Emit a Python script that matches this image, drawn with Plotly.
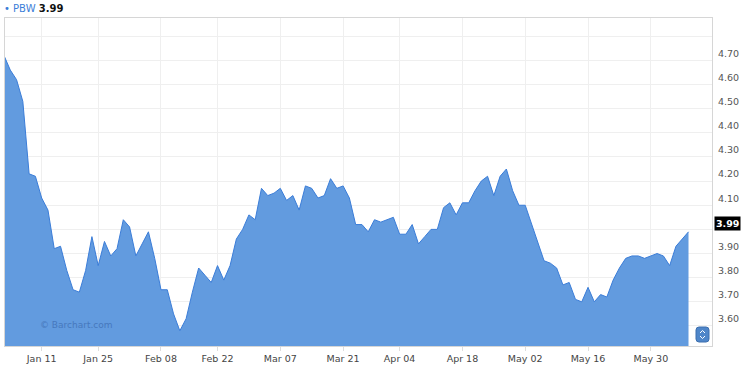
import pandas as pd
import plotly.graph_objects as go

# ---------------- data ----------------
SYMBOL = "PBW"
HOLIDAYS = ["2016-01-01", "2016-01-18", "2016-02-15", "2016-03-25", "2016-05-30"]
dates = [d.strftime("%Y-%m-%d") for d in pd.bdate_range("2015-12-31", "2016-06-08")
         if d.strftime("%Y-%m-%d") not in HOLIDAYS]

values = [
    4.72, 4.66, 4.62, 4.53, 4.23, 4.22, 4.13, 4.08, 3.92, 3.93,
    3.83, 3.75, 3.74, 3.83, 3.97, 3.85, 3.95, 3.89, 3.92, 4.04,
    4.01, 3.89, 3.94, 3.99, 3.88, 3.75, 3.75, 3.65, 3.58, 3.63,
    3.74, 3.84, 3.81, 3.78, 3.85, 3.79, 3.85, 3.96, 4.00, 4.06,
    4.04, 4.17, 4.14, 4.15, 4.17, 4.12, 4.14, 4.08, 4.18, 4.17,
    4.13, 4.14, 4.21, 4.17, 4.18, 4.13, 4.02, 4.02, 3.99, 4.04,
    4.03, 4.04, 4.05, 3.98, 3.98, 4.02, 3.94, 3.97, 4.00, 4.00,
    4.09, 4.11, 4.06, 4.11, 4.11, 4.16, 4.20, 4.22, 4.14, 4.22,
    4.25, 4.16, 4.10, 4.10, 4.02, 3.94, 3.87, 3.86, 3.84, 3.77,
    3.78, 3.71, 3.70, 3.76, 3.70, 3.73, 3.72, 3.79, 3.84, 3.88,
    3.89, 3.89, 3.88, 3.89, 3.90, 3.89, 3.85, 3.93, 3.96, 3.99,
]

TICK_DATES = ["2016-01-11", "2016-01-25", "2016-02-08", "2016-02-22", "2016-03-07",
              "2016-03-21", "2016-04-04", "2016-04-18", "2016-05-02", "2016-05-16",
              "2016-05-31"]
TICK_LABELS = ["Jan 11", "Jan 25", "Feb 08", "Feb 22", "Mar 07", "Mar 21",
               "Apr 04", "Apr 18", "May 02", "May 16", "May 30"]

Y_TICKS = [3.6, 3.7, 3.8, 3.9, 4.0, 4.1, 4.2, 4.3, 4.4, 4.5, 4.6, 4.7, 4.8]
Y_LABELS = ["3.60", "3.70", "3.80", "3.90", "", "4.10", "4.20", "4.30",
            "4.40", "4.50", "4.60", "4.70", ""]

# ---------------- style ----------------
FONT = "DejaVu Sans"
LINE_BLUE = "#3b7dd8"
FILL_BLUE = "#629bdf"
GRID = "#efefef"
BORDER = "#d6d6d6"

last = values[-1]

fig = go.Figure()
fig.add_trace(go.Scatter(
    x=dates, y=values, mode="lines",
    line=dict(color=LINE_BLUE, width=1),
    fill="tozeroy", fillcolor=FILL_BLUE,
    hoverinfo="x+y",
))

fig.update_layout(
    width=750, height=369,
    margin=dict(l=5, r=38, t=17.5, b=22.5),
    paper_bgcolor="white", plot_bgcolor="white",
    showlegend=False,
    font=dict(family=FONT, size=9.5, color="#444"),
)

fig.update_xaxes(
    type="category",
    range=[0.16, 112.74],
    tickmode="array", tickvals=TICK_DATES, ticktext=TICK_LABELS,
    showgrid=True, gridcolor=GRID, gridwidth=1,
    showline=True, linecolor=BORDER, linewidth=1, mirror=True,
    ticks="outside", ticklen=4, tickcolor="#dddddd",
    tickfont=dict(family=FONT, size=9.5, color="#444"),
    zeroline=False,
)

fig.update_yaxes(
    side="right",
    range=[3.517, 4.8755],
    tickmode="array", tickvals=Y_TICKS, ticktext=Y_LABELS,
    showgrid=True, gridcolor=GRID, gridwidth=1,
    showline=True, linecolor=BORDER, linewidth=1, mirror=True,
    ticks="",
    ticklabelshift=-7, ticklabelstandoff=3,
    tickfont=dict(family=FONT, size=9.5, color="#555"),
    zeroline=False,
)

# header legend
fig.add_annotation(
    xref="paper", yref="paper", x=0, y=1,
    xanchor="left", yanchor="middle", xshift=-3, yshift=10,
    text=f"<span style='color:{LINE_BLUE}'>•</span> <span style='color:{LINE_BLUE}'>{SYMBOL}</span> <b>{last:.2f}</b>",
    showarrow=False, font=dict(family=FONT, size=10, color="#111"),
)

# last price box
fig.add_annotation(
    xref="paper", yref="y", x=1, y=last,
    xanchor="left", yanchor="middle", xshift=2, yshift=8,
    text=f"<b>{last:.2f}</b>", showarrow=False,
    bgcolor="black", borderpad=1,
    font=dict(family=FONT, size=9.5, color="white"),
)

# watermark
fig.add_annotation(
    xref="paper", yref="paper", x=0, y=0,
    xanchor="left", yanchor="middle", xshift=33, yshift=21.5,
    text="© Barchart.com", showarrow=False,
    font=dict(family=FONT, size=9, color="#4678bd"),
)

# scroll icon (decoration)
fig.add_shape(
    type="path", xref="paper", yref="paper",
    xsizemode="pixel", ysizemode="pixel", xanchor=1, yanchor=0,
    path="M -13 4 L -6 4 Q -3 4 -3 7 L -3 16 Q -3 19 -6 19 L -13 19 Q -16 19 -16 16 L -16 7 Q -16 4 -13 4 Z",
    fillcolor="#4f86c9", line=dict(color="#3d6fae", width=1),
)
fig.add_shape(
    type="path", xref="paper", yref="paper",
    xsizemode="pixel", ysizemode="pixel", xanchor=1, yanchor=0,
    path="M -12 13 L -9.5 15.5 L -7 13 M -12 10 L -9.5 7.5 L -7 10",
    line=dict(color="white", width=1),
)

fig.write_html("out.html")
